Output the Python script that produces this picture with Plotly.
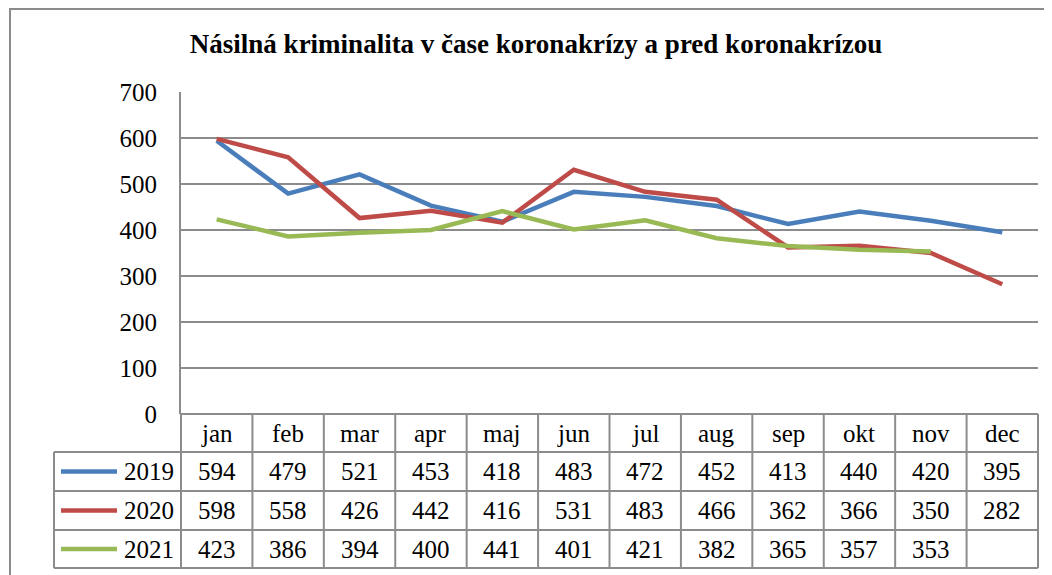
import plotly.graph_objects as go

months = ["jan", "feb", "mar", "apr", "maj", "jun", "jul", "aug", "sep", "okt", "nov", "dec"]
years = ["2019", "2020", "2021"]
v2019 = [594, 479, 521, 453, 418, 483, 472, 452, 413, 440, 420, 395]
v2020 = [598, 558, 426, 442, 416, 531, 483, 466, 362, 366, 350, 282]
v2021 = [423, 386, 394, 400, 441, 401, 421, 382, 365, 357, 353, None]
colors = ["#4a7ebb", "#be4b48", "#98b954"]

title = "Násilná kriminalita v čase koronakrízy a pred koronakrízou"
FONT = "Liberation Serif"
GRID = "#8c8c8c"

# page geometry (screen pixels); the figure div sits 8px in from the page corner
W, H = 1052, 575
OFF = 8
L, R, T, B = 181, 1038, 92, 414
LEG_X = 54
ROW_Y = [414, 452, 491, 530, 568]


def fx(px):
    return (px - L) / (R - L)


def fy(py):
    return (B - py) / (B - T)


series = [v2019, v2020, v2021]

fig = go.Figure()
for name, vals, col in zip(years, series, colors):
    fig.add_trace(go.Scatter(
        x=months, y=vals, name=name, mode="lines",
        line=dict(color=col, width=4.5), connectgaps=False,
    ))

shapes = []
# outer chart border
shapes.append(dict(type="rect", xref="paper", yref="paper",
                   x0=fx(10), x1=fx(W + 20), y0=fy(OFF + 1), y1=fy(H + 20),
                   line=dict(color=GRID, width=2), layer="below"))
# table horizontal lines
for i, py in enumerate(ROW_Y):
    x0 = L if i == 0 else LEG_X
    shapes.append(dict(type="line", xref="paper", yref="paper",
                       x0=fx(x0), x1=1, y0=fy(py), y1=fy(py),
                       line=dict(color=GRID, width=2)))
# table vertical lines
n = len(months)
for k in range(n + 1):
    shapes.append(dict(type="line", xref="paper", yref="paper",
                       x0=k / n, x1=k / n, y0=fy(ROW_Y[0]), y1=fy(ROW_Y[-1]),
                       line=dict(color=GRID, width=2)))
shapes.append(dict(type="line", xref="paper", yref="paper",
                   x0=fx(LEG_X), x1=fx(LEG_X), y0=fy(ROW_Y[1]), y1=fy(ROW_Y[-1]),
                   line=dict(color=GRID, width=2)))

annotations = []
for r, (name, vals, col) in enumerate(zip(years, series, colors)):
    yc = fy((ROW_Y[r + 1] + ROW_Y[r + 2]) / 2)
    # legend key
    shapes.append(dict(type="line", xref="paper", yref="paper",
                       x0=fx(61), x1=fx(117), y0=yc, y1=yc,
                       line=dict(color=col, width=4.5)))
    annotations.append(dict(text=name, xref="paper", yref="paper",
                            x=fx(176), y=yc, xanchor="right", yanchor="middle",
                            showarrow=False))
    for m, v in zip(months, vals):
        if v is None:
            continue
        annotations.append(dict(text=str(v), xref="x", yref="paper",
                                x=m, y=yc, xanchor="center", yanchor="middle",
                                showarrow=False))
# month header row
yh = fy((ROW_Y[0] + ROW_Y[1]) / 2)
for m in months:
    annotations.append(dict(text=m, xref="x", yref="paper",
                            x=m, y=yh, xanchor="center", yanchor="middle",
                            showarrow=False))

fig.update_layout(
    width=W, height=H,
    margin=dict(l=L - OFF, r=W - (R - OFF), t=T - OFF, b=H - (B - OFF), pad=0),
    paper_bgcolor="white", plot_bgcolor="white",
    font=dict(family=FONT, color="black", size=25),
    showlegend=False,
    title=dict(text="<b>" + title + "</b>", x=(536 - OFF) / W, xanchor="center",
               y=1 - (44 - OFF) / H, yanchor="middle",
               font=dict(family=FONT, size=27)),
    shapes=shapes,
    annotations=annotations,
)
fig.update_xaxes(
    range=[-0.5, n - 0.5], showgrid=False, showticklabels=False,
    showline=False, zeroline=False, fixedrange=True,
)
fig.update_yaxes(
    range=[0, 700], dtick=100, showgrid=True, gridcolor=GRID, gridwidth=2,
    showline=True, linecolor=GRID, linewidth=2, zeroline=False,
    ticklabelstandoff=17, tickfont=dict(family=FONT, size=25), fixedrange=True,
)

fig.write_html("out.html")
